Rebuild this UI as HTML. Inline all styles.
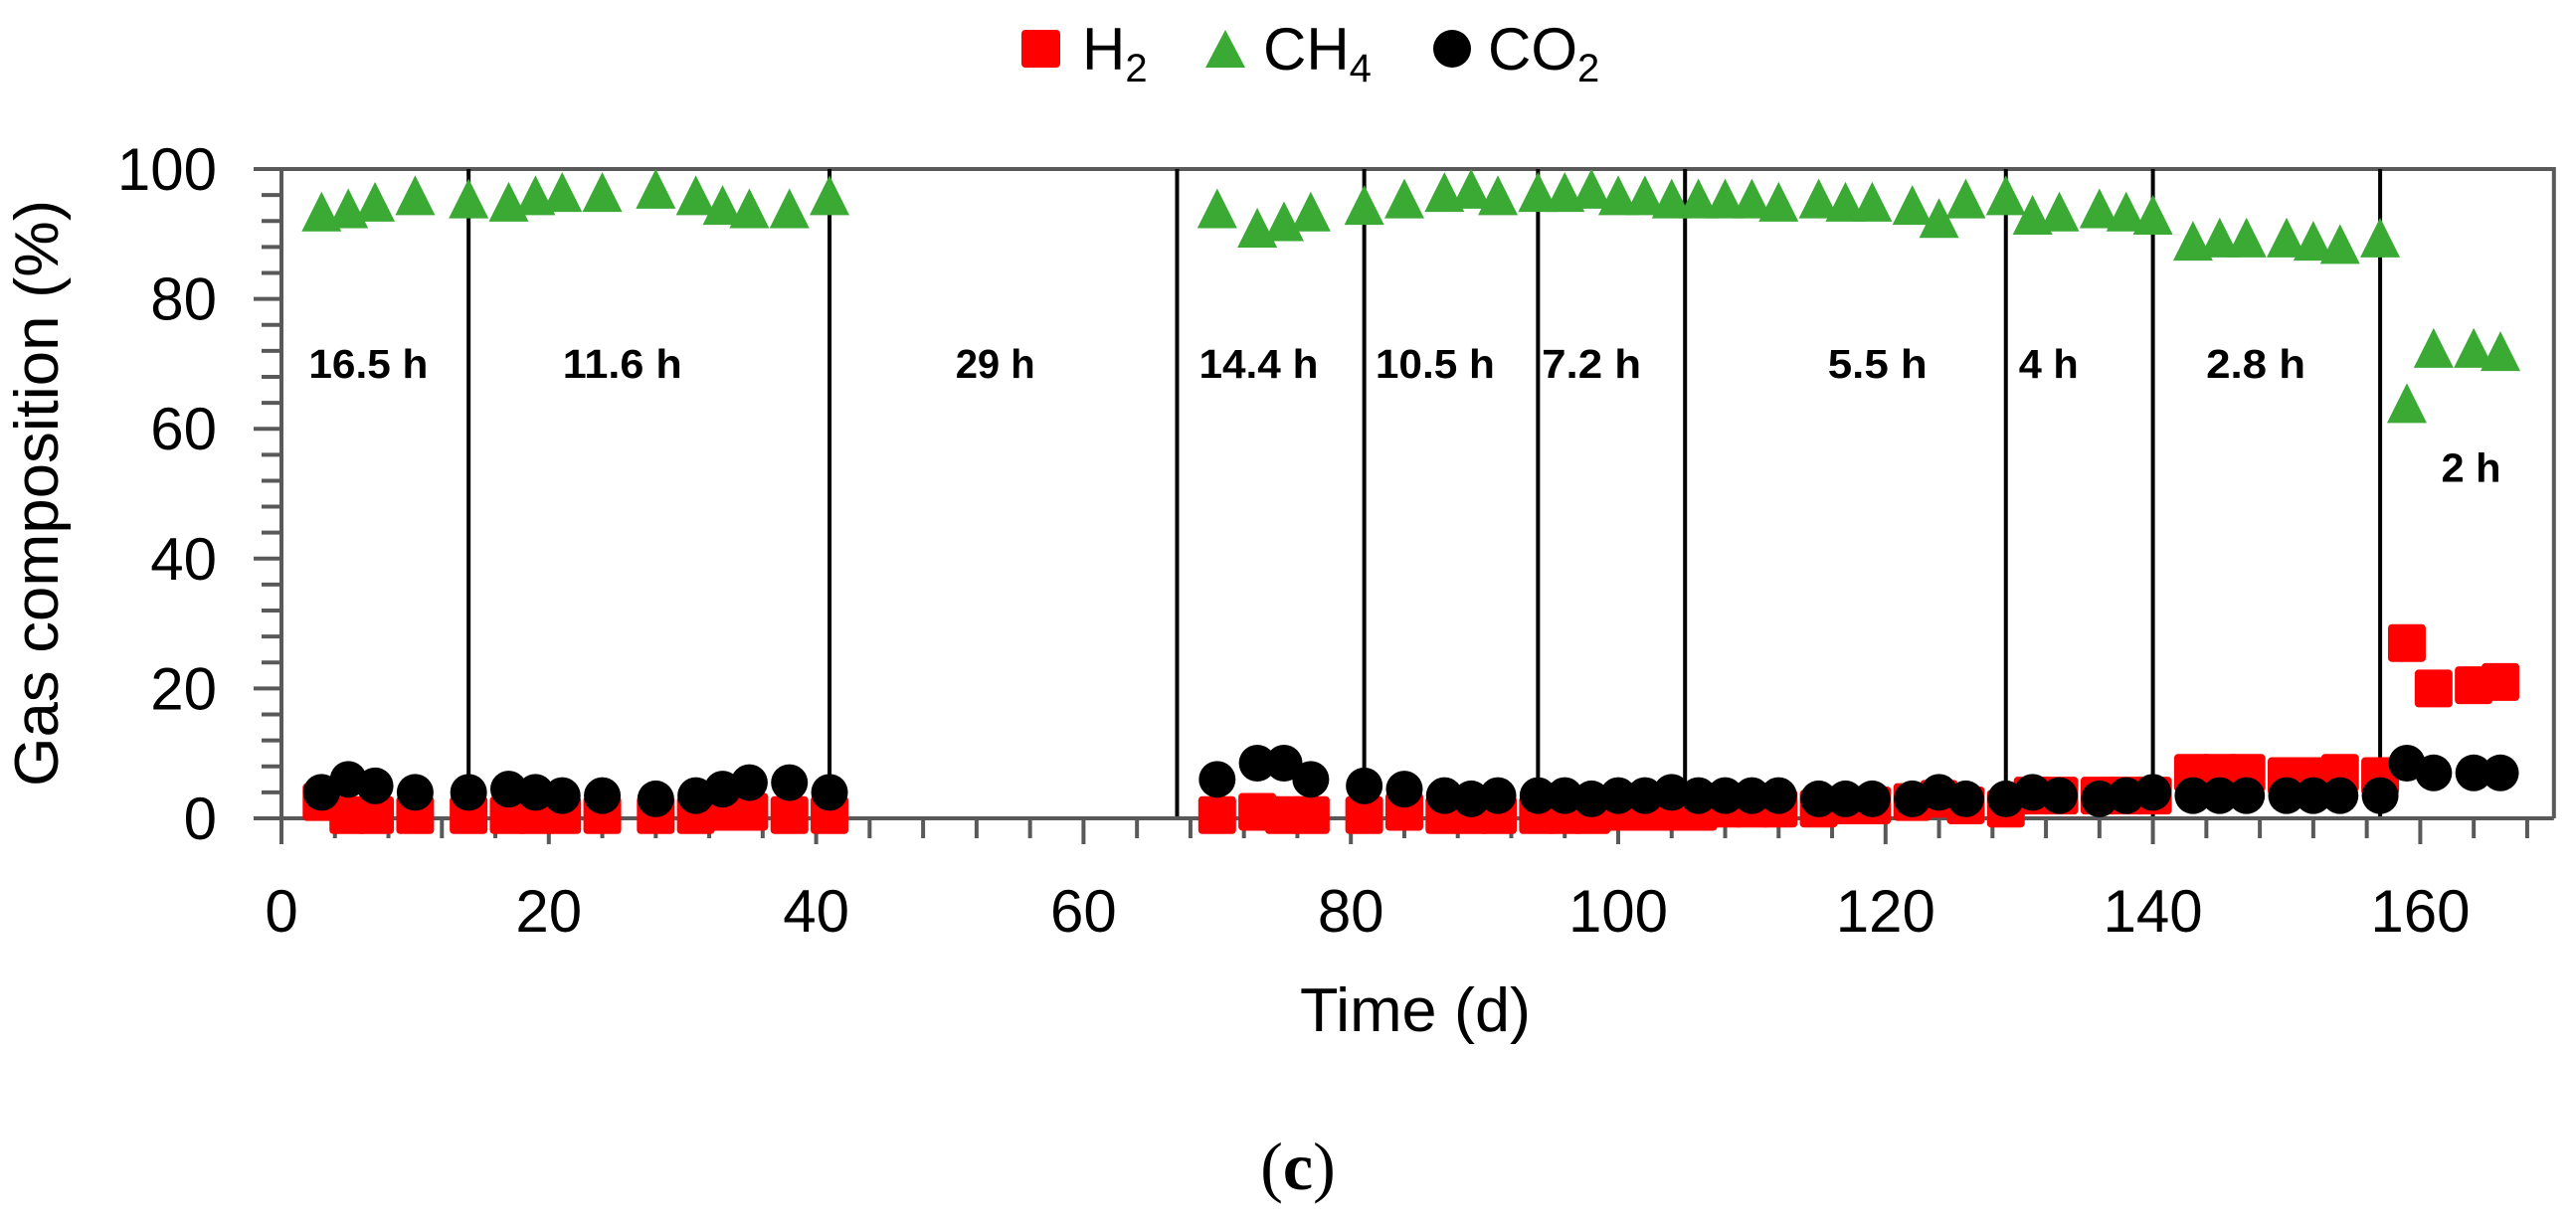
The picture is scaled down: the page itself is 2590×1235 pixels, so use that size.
<!DOCTYPE html>
<html><head><meta charset="utf-8"><style>
html,body{margin:0;padding:0;background:#fff;}
svg{display:block;}
text{font-family:"Liberation Sans",sans-serif;}
</style></head><body>
<svg id="chart" width="2590" height="1235" viewBox="0 0 2590 1235">
<g id="legend">
 <rect x="1027" y="30" width="39" height="38" rx="4" fill="#ff0000"/>
 <text x="1088" y="70" font-size="60" fill="#000">H<tspan font-size="40" dy="12">2</tspan></text>
 <polygon points="1212,68 1252,68 1232,30" fill="#3aaa35"/>
 <text x="1270" y="70" font-size="60" fill="#000">CH<tspan font-size="40" dy="12">4</tspan></text>
 <circle cx="1460" cy="49" r="19" fill="#000"/>
 <text x="1496" y="70" font-size="60" fill="#000">CO<tspan font-size="40" dy="12">2</tspan></text>
</g>
<g id="axes"></g>
<g id="marks"></g>
<text x="58" y="496" font-size="62" text-anchor="middle" transform="rotate(-90 58 496)" textLength="590" lengthAdjust="spacingAndGlyphs">Gas composition (%)</text>
<text x="1423" y="1037" font-size="62" text-anchor="middle" textLength="232" lengthAdjust="spacingAndGlyphs">Time (d)</text>
<text x="1305" y="1196" text-anchor="middle" style="font-family:'Liberation Serif',serif;font-size:68px">(<tspan font-weight="bold">c</tspan>)</text>
</svg>
<script>
const xTicks = [0,20,40,60,80,100,120,140,160];
const yTicks = [0,20,40,60,80,100];
const boundaries = [14,41,67,81,94,105,129,140,157];
const intervalLabels = ["16.5 h","11.6 h","29 h","14.4 h","10.5 h","7.2 h","5.5 h","4 h","2.8 h","2 h"];
const intervalLabelX = [6.5,25.5,53.4,73.1,86.3,98,119.4,132.2,147.7,163.8];
const intervalLabelY = [70,70,70,70,70,70,70,70,70,54];
const days = [3,5,7,10,14,17,19,21,24,28,31,33,35,38,41,70,73,75,77,81,84,87,89,91,94,96,98,100,102,104,106,108,110,112,115,117,119,122,124,126,129,131,133,136,138,140,143,145,147,150,152,154,157,159,161,164,166];
const ch4 = [93,93.5,94.5,95.5,95,94.5,95.5,96,96,96.5,95.5,94,93.5,93.5,95.5,93.5,90.5,91.5,93,94,95,96,96.5,95.5,96,96,96.5,95.5,95.5,95,95,95,95,94.5,95,94.5,94.5,94,92,95,95.5,92.5,93,93.5,93,92.5,88.5,89,89,89,88.5,88,89,63.5,72,72,71.5];
const h2 = [2.5,0.5,0.5,0.5,0.5,0.5,0.5,0.5,0.5,0.5,0.5,1,1,0.5,0.5,0.5,1,0.5,0.5,0.5,1,0.5,0.5,0.5,0.5,0.5,0.5,1,1,1,1,1.5,1.5,1.5,1.5,2,2,2.5,3,2,1.5,3.5,3.5,3.5,3.5,3.5,7,7,7,6.5,6.5,7,6.5,27,20,20.5,21];
const co2 = [4,6,5,4,4,4.5,4,3.5,3.5,3,3.5,4.5,5.5,5.5,4,6,8.5,8.5,6,5,4.5,3.5,3,3.5,3.5,3.5,3,3.5,3.5,4,3.5,3.5,3.5,3.5,3,3,3,3,4,3,3,4,3.5,3,3.5,4,3.5,3.5,3.5,3.5,3.5,3.5,3.5,8.5,7,7,7];

const NS = "http://www.w3.org/2000/svg";
const X0 = 283, XS = 13.44, Y0 = 823, YS = 6.53;
const xs = d => X0 + d * XS;
const ys = v => Y0 - v * YS;
const axes = document.getElementById('axes');
const marks = document.getElementById('marks');
function mk(tag, attrs, parent){ const e = document.createElementNS(NS, tag); for (const k in attrs) e.setAttribute(k, attrs[k]); parent.appendChild(e); return e; }

const frame = mk('polyline', {points: `${xs(0)},${ys(100)} ${xs(170)},${ys(100)} ${xs(170)},${ys(0)}`, fill:'none', stroke:'#595959', 'stroke-width':4}, axes);



boundaries.forEach(b => {
  const l = mk('line', {x1: xs(b), x2: xs(b), y1: ys(100), y2: ys(0), stroke:'#000', 'stroke-width':4}, axes);
  
  
});
intervalLabels.forEach((t, i) => {
  const tx = mk('text', {x: xs(intervalLabelX[i]), y: ys(intervalLabelY[i]) + 14, 'font-size': 41, 'font-weight': 'bold', 'text-anchor': 'middle', textLength: t.length * 20, lengthAdjust: 'spacingAndGlyphs'}, axes);
  tx.textContent = t;
  
  
});

const ya = mk('line', {x1: X0, x2: X0, y1: ys(100), y2: Y0 + 24, stroke:'#595959', 'stroke-width':4}, axes);


for (let v = 0; v <= 100; v += 4) {
  const len = (v % 20 === 0) ? 28 : 20;
  mk('line', {x1: X0 - len, x2: X0, y1: ys(v), y2: ys(v), stroke:'#595959', 'stroke-width':4}, axes);
}
mk('line', {x1: X0 - 28, x2: X0, y1: ys(100), y2: ys(100), stroke:'#595959', 'stroke-width':4}, axes);
yTicks.forEach(v => {
  const t = mk('text', {x: 218, y: ys(v) + 21, 'font-size': 60, 'text-anchor': 'end'}, axes);
  t.textContent = v;
  
  
});

const xa = mk('line', {x1: X0 - 28, x2: xs(170), y1: Y0, y2: Y0, stroke:'#595959', 'stroke-width':4}, axes);


for (let d = 0; d <= 168; d += 4) {
  const len = (d % 20 === 0) ? 26 : 20;
  mk('line', {x1: xs(d), x2: xs(d), y1: Y0, y2: Y0 + len, stroke:'#595959', 'stroke-width':4}, axes);
}
xTicks.forEach(d => {
  const t = mk('text', {x: xs(d), y: 937, 'font-size': 60, 'text-anchor': 'middle'}, axes);
  t.textContent = d;
  
  
});

days.forEach((d, i) => {
  const r = mk('rect', {x: xs(d) - 19, y: ys(h2[i]) - 19, width: 38, height: 38, rx: 4, fill: '#ff0000'}, marks);
  
  
});
days.forEach((d, i) => {
  const cx = xs(d), cy = ys(ch4[i]);
  const p = mk('polygon', {points: `${cx-20},${cy+17} ${cx+20},${cy+17} ${cx},${cy-23}`, fill: '#3aaa35'}, marks);
  
  
});
days.forEach((d, i) => {
  const c = mk('circle', {cx: xs(d), cy: ys(co2[i]), r: 18.5, fill: '#000'}, marks);
  
  
});
</script>
</body></html>
